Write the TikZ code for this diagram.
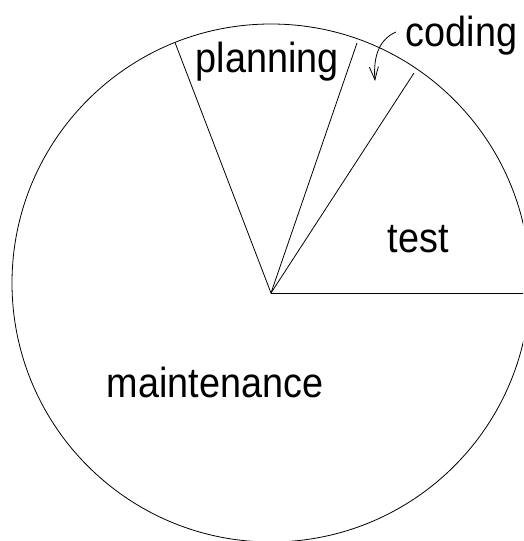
\documentclass[tikz,border=0pt]{standalone}
\usepackage{fontspec}
\usepackage{graphicx}
\setmainfont{Liberation Sans}
\usetikzlibrary{arrows.meta}
\tikzset{
  pieline/.style={line width=0.8pt, black},
  lbl/.style={anchor=base west, inner sep=0pt, font=\fontsize{42}{42}\selectfont},
}
\newcommand{\lbltext}[1]{\scalebox{0.9}[1]{#1}}
\begin{document}
\begin{tikzpicture}[x=1pt,y=-1pt]
\useasboundingbox (0,0) rectangle (523,541);
\clip (0,0) rectangle (523,541);
\coordinate (ctr) at (271,283);
\coordinate (v) at (271,293);
\coordinate (p1) at (175,42.5);
\coordinate (p2) at (357,43);
\coordinate (p3) at (414,73);
\coordinate (p4) at (530,293);
\coordinate (cs) at (396,32);
\coordinate (ct) at (375,81);
\draw[pieline] (ctr) circle[radius=259];
\draw[pieline] (p1) -- (v) -- (p2);
\draw[pieline] (v) -- (p3);
\draw[pieline] (v) -- (p4);
\node[lbl] (planning) at (195.5,72) {\lbltext{planning}};
\node[lbl] (coding) at (405.5,46) {\lbltext{coding}};
\node[lbl] (test) at (387.5,252) {\lbltext{test}};
\node[lbl] (maint) at (106.5,397) {\lbltext{maintenance}};
\draw[pieline, -{Straight Barb[length=13pt,width=9pt]}] (cs) .. controls (380,39) and (373,55) .. (ct);
\end{tikzpicture}
\end{document}
